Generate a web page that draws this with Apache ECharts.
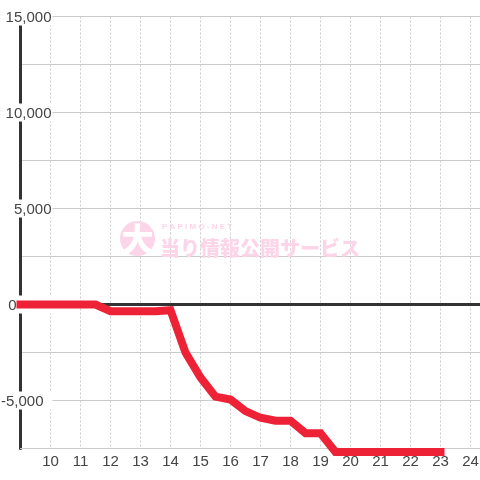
<!DOCTYPE html>
<html>
<head>
<meta charset="utf-8">
<style>
  html, body { margin: 0; padding: 0; background: #fff; }
  #chart { width: 480px; height: 480px; }
</style>
<script src="https://cdn.jsdelivr.net/npm/echarts@6/dist/echarts.min.js"></script>
</head>
<body>
<div id="chart"></div>
<script>
const hours = [9, 9.5, 10, 10.5, 11, 11.5, 12, 12.5, 13, 13.5, 14, 14.5, 15, 15.5, 16, 16.5, 17, 17.5, 18, 18.5, 19, 19.5, 20, 20.5, 21, 21.5, 22, 22.5, 23];
const diffs = [0, 0, 0, 0, 0, 0, -350, -350, -350, -350, -300, -2500, -3800, -4800, -4950, -5550, -5900, -6050, -6050, -6700, -6700, -7680, -7680, -7680, -7680, -7680, -7680, -7680, -7680];
const yLabels = { 15000: "15,000", 10000: "10,000", 5000: "5,000", 0: "0", "-5000": "-5,000" };
const xMax = 25;

const labelFont = "'Liberation Sans', Arial, sans-serif";
const jpFont = "'Noto Sans CJK JP', sans-serif";
const pink = "#fcd6e8";

const myChart = echarts.init(document.getElementById("chart"), null, { renderer: "canvas" });

function labelBox(padRight) {
  return {
    backgroundColor: "#fff",
    color: "#444",
    fontFamily: labelFont,
    fontSize: 15,
    lineHeight: 16,
    height: 16,
    padding: [2, padRight, 0, 0],
  };
}

let option = {
  animation: false,
  backgroundColor: "#fff",
  grid: { left: 20.5, top: 16.5, width: 480, height: 432, outerBoundsMode: "none" },
  xAxis: [
    {
      type: "value",
      min: 9,
      max: xMax,
      interval: 1,
      position: "bottom",
      axisLine: { onZero: false, lineStyle: { color: "#ccc", width: 1 } },
      axisTick: { show: false },
      axisLabel: {
        showMinLabel: false,
        showMaxLabel: false,
        margin: 6,
        color: "#444",
        fontFamily: labelFont,
        fontSize: 15,
      },
      splitLine: { show: true, lineStyle: { color: "#ccc", width: 1, type: [2, 2] } },
    },
    {
      // 0のライン
      type: "value",
      min: 9,
      max: xMax,
      interval: 1,
      position: "top",
      axisLine: { onZero: true, onZeroAxisIndex: 0, lineStyle: { color: "#333", width: 3 } },
      axisTick: { show: false },
      axisLabel: { show: false },
      splitLine: { show: false },
    },
  ],
  yAxis: {
    type: "value",
    min: -7500,
    max: 15000,
    interval: 2500,
    axisLine: { show: true, onZero: false, lineStyle: { color: "#333", width: 3 } },
    axisTick: { show: false },
    axisLabel: {
      margin: -32,
      formatter: (val) => {
        const text = yLabels[val];
        if (!text) return "";
        if (val === 0) return "{zero|" + text + "}";
        if (val < 0) return "{neg|" + text + "}";
        return "{pos|" + text + "}";
      },
      rich: { pos: labelBox(1), neg: labelBox(9), zero: labelBox(36) },
    },
    splitLine: { show: true, lineStyle: { color: "#ccc", width: 1 } },
  },
  graphic: [
    { type: "circle", left: 120, top: 221, shape: { r: 17.5 }, style: { fill: pink }, z: 1 },
    {
      type: "text", x: 137.5, y: 239, z: 1,
      style: { text: "大", fill: "#fff", font: "900 32px " + jpFont, align: "center", verticalAlign: "middle" },
    },
    {
      type: "text", x: 162, y: 227, z: 1,
      style: { text: "P A P I M O - N E T", fill: pink, font: "bold 8px 'Liberation Sans Narrow', " + labelFont, verticalAlign: "middle" },
    },
    {
      type: "text", x: 160, y: 248, z: 1,
      style: { text: "当り情報公開サービス", fill: pink, font: "900 20px " + jpFont, verticalAlign: "middle" },
    },
  ],
  series: [
    {
      type: "line",
      xAxisIndex: 0,
      data: hours.map((h, i) => [h, diffs[i]]),
      showSymbol: false,
      clip: false,
      z: 5,
      lineStyle: { color: "#ee2236", width: 8, cap: "square", join: "miter" },
    },
  ],
};

myChart.setOption(option);
</script>
</body>
</html>
